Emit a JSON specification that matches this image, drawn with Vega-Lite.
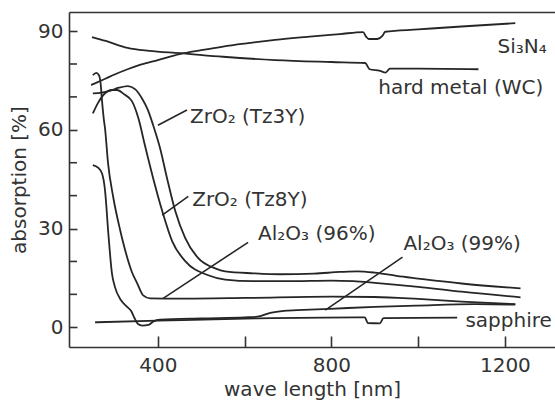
{
  "$schema": "https://vega.github.io/schema/vega-lite/v6.json",
  "autosize": {"type": "none"},
  "padding": {"left": 69, "top": 12, "right": 0, "bottom": 54},
  "width": 486,
  "height": 335,
  "background": "white",
  "config": {
    "view": {"stroke": null},
    "font": "DejaVu Sans",
    "axis": {
      "grid": false,
      "labelOverlap": false,
      "domainColor": "#333333",
      "domainWidth": 1.6,
      "tickColor": "#333333",
      "tickWidth": 1.6,
      "labelFont": "DejaVu Sans",
      "labelFontSize": 20,
      "labelColor": "#333333",
      "titleFont": "DejaVu Sans",
      "titleFontSize": 20,
      "titleFontWeight": "normal",
      "titleColor": "#333333"
    }
  },
  "datasets": {
    "curves": [
      {"series": "Si3N4", "wl": 246, "abs": 73.6},
      {"series": "Si3N4", "wl": 260, "abs": 74.4},
      {"series": "Si3N4", "wl": 280, "abs": 75.6},
      {"series": "Si3N4", "wl": 300, "abs": 76.8},
      {"series": "Si3N4", "wl": 330, "abs": 78.4},
      {"series": "Si3N4", "wl": 360, "abs": 79.8},
      {"series": "Si3N4", "wl": 400, "abs": 81.2},
      {"series": "Si3N4", "wl": 450, "abs": 83.0},
      {"series": "Si3N4", "wl": 500, "abs": 84.2},
      {"series": "Si3N4", "wl": 550, "abs": 85.3},
      {"series": "Si3N4", "wl": 600, "abs": 86.2},
      {"series": "Si3N4", "wl": 670, "abs": 87.3},
      {"series": "Si3N4", "wl": 750, "abs": 88.3},
      {"series": "Si3N4", "wl": 820, "abs": 89.1},
      {"series": "Si3N4", "wl": 873, "abs": 89.7},
      {"series": "Si3N4", "wl": 880, "abs": 88.3},
      {"series": "Si3N4", "wl": 886, "abs": 87.6},
      {"series": "Si3N4", "wl": 906, "abs": 87.6},
      {"series": "Si3N4", "wl": 918, "abs": 88.6},
      {"series": "Si3N4", "wl": 924, "abs": 89.8},
      {"series": "Si3N4", "wl": 1000, "abs": 90.5},
      {"series": "Si3N4", "wl": 1100, "abs": 91.4},
      {"series": "Si3N4", "wl": 1224, "abs": 92.4},

      {"series": "WC", "wl": 248, "abs": 88.2},
      {"series": "WC", "wl": 280, "abs": 87.0},
      {"series": "WC", "wl": 330, "abs": 84.9},
      {"series": "WC", "wl": 380, "abs": 84.0},
      {"series": "WC", "wl": 451, "abs": 83.3},
      {"series": "WC", "wl": 550, "abs": 82.2},
      {"series": "WC", "wl": 670, "abs": 81.2},
      {"series": "WC", "wl": 800, "abs": 80.6},
      {"series": "WC", "wl": 878, "abs": 80.3},
      {"series": "WC", "wl": 888, "abs": 78.4},
      {"series": "WC", "wl": 912, "abs": 77.9},
      {"series": "WC", "wl": 925, "abs": 77.4},
      {"series": "WC", "wl": 935, "abs": 78.6},
      {"series": "WC", "wl": 1000, "abs": 78.6},
      {"series": "WC", "wl": 1139, "abs": 78.4},

      {"series": "Tz3Y", "wl": 250, "abs": 71.1},
      {"series": "Tz3Y", "wl": 270, "abs": 71.3},
      {"series": "Tz3Y", "wl": 290, "abs": 71.9},
      {"series": "Tz3Y", "wl": 310, "abs": 72.8},
      {"series": "Tz3Y", "wl": 331, "abs": 73.3},
      {"series": "Tz3Y", "wl": 348, "abs": 72.3},
      {"series": "Tz3Y", "wl": 363, "abs": 69.6},
      {"series": "Tz3Y", "wl": 377, "abs": 66.0},
      {"series": "Tz3Y", "wl": 389, "abs": 61.4},
      {"series": "Tz3Y", "wl": 405, "abs": 54.4},
      {"series": "Tz3Y", "wl": 421, "abs": 45.3},
      {"series": "Tz3Y", "wl": 440, "abs": 35.3},
      {"series": "Tz3Y", "wl": 463, "abs": 27.1},
      {"series": "Tz3Y", "wl": 493, "abs": 21.0},
      {"series": "Tz3Y", "wl": 532, "abs": 17.9},
      {"series": "Tz3Y", "wl": 555, "abs": 17.0},
      {"series": "Tz3Y", "wl": 620, "abs": 16.4},
      {"series": "Tz3Y", "wl": 682, "abs": 16.1},
      {"series": "Tz3Y", "wl": 760, "abs": 16.3},
      {"series": "Tz3Y", "wl": 820, "abs": 16.8},
      {"series": "Tz3Y", "wl": 860, "abs": 17.0},
      {"series": "Tz3Y", "wl": 900, "abs": 16.6},
      {"series": "Tz3Y", "wl": 950, "abs": 15.6},
      {"series": "Tz3Y", "wl": 1000, "abs": 14.8},
      {"series": "Tz3Y", "wl": 1100, "abs": 13.3},
      {"series": "Tz3Y", "wl": 1236, "abs": 11.8},

      {"series": "Tz8Y", "wl": 250, "abs": 65.0},
      {"series": "Tz8Y", "wl": 262, "abs": 68.2},
      {"series": "Tz8Y", "wl": 278, "abs": 71.1},
      {"series": "Tz8Y", "wl": 293, "abs": 72.1},
      {"series": "Tz8Y", "wl": 306, "abs": 72.1},
      {"series": "Tz8Y", "wl": 322, "abs": 70.8},
      {"series": "Tz8Y", "wl": 340, "abs": 68.7},
      {"series": "Tz8Y", "wl": 355, "abs": 63.5},
      {"series": "Tz8Y", "wl": 370, "abs": 55.3},
      {"series": "Tz8Y", "wl": 389, "abs": 45.3},
      {"series": "Tz8Y", "wl": 410, "abs": 35.3},
      {"series": "Tz8Y", "wl": 433, "abs": 26.1},
      {"series": "Tz8Y", "wl": 463, "abs": 20.1},
      {"series": "Tz8Y", "wl": 516, "abs": 15.8},
      {"series": "Tz8Y", "wl": 555, "abs": 14.5},
      {"series": "Tz8Y", "wl": 620, "abs": 14.0},
      {"series": "Tz8Y", "wl": 700, "abs": 14.0},
      {"series": "Tz8Y", "wl": 800, "abs": 14.2},
      {"series": "Tz8Y", "wl": 850, "abs": 14.0},
      {"series": "Tz8Y", "wl": 900, "abs": 13.5},
      {"series": "Tz8Y", "wl": 1000, "abs": 12.3},
      {"series": "Tz8Y", "wl": 1100, "abs": 10.8},
      {"series": "Tz8Y", "wl": 1236, "abs": 9.1},

      {"series": "Al96", "wl": 250, "abs": 76.6},
      {"series": "Al96", "wl": 258, "abs": 77.3},
      {"series": "Al96", "wl": 264, "abs": 76.6},
      {"series": "Al96", "wl": 268, "abs": 74.0},
      {"series": "Al96", "wl": 271, "abs": 69.0},
      {"series": "Al96", "wl": 275, "abs": 63.5},
      {"series": "Al96", "wl": 278, "abs": 60.5},
      {"series": "Al96", "wl": 285, "abs": 49.9},
      {"series": "Al96", "wl": 297, "abs": 39.5},
      {"series": "Al96", "wl": 313, "abs": 29.5},
      {"series": "Al96", "wl": 329, "abs": 21.3},
      {"series": "Al96", "wl": 340, "abs": 16.8},
      {"series": "Al96", "wl": 352, "abs": 13.4},
      {"series": "Al96", "wl": 366, "abs": 9.7},
      {"series": "Al96", "wl": 382, "abs": 8.8},
      {"series": "Al96", "wl": 450, "abs": 8.7},
      {"series": "Al96", "wl": 600, "abs": 8.9},
      {"series": "Al96", "wl": 800, "abs": 9.3},
      {"series": "Al96", "wl": 900, "abs": 9.2},
      {"series": "Al96", "wl": 1000, "abs": 8.6},
      {"series": "Al96", "wl": 1100, "abs": 7.8},
      {"series": "Al96", "wl": 1224, "abs": 7.0},

      {"series": "Al99", "wl": 250, "abs": 49.3},
      {"series": "Al99", "wl": 262, "abs": 48.5},
      {"series": "Al99", "wl": 271, "abs": 46.8},
      {"series": "Al99", "wl": 278, "abs": 41.7},
      {"series": "Al99", "wl": 286, "abs": 28.0},
      {"series": "Al99", "wl": 294, "abs": 16.4},
      {"series": "Al99", "wl": 301, "abs": 12.2},
      {"series": "Al99", "wl": 315, "abs": 8.2},
      {"series": "Al99", "wl": 329, "abs": 6.2},
      {"series": "Al99", "wl": 338, "abs": 5.0},
      {"series": "Al99", "wl": 346, "abs": 2.8},
      {"series": "Al99", "wl": 354, "abs": 1.0},
      {"series": "Al99", "wl": 364, "abs": 0.5},
      {"series": "Al99", "wl": 378, "abs": 0.7},
      {"series": "Al99", "wl": 390, "abs": 1.8},
      {"series": "Al99", "wl": 405, "abs": 2.3},
      {"series": "Al99", "wl": 500, "abs": 2.7},
      {"series": "Al99", "wl": 600, "abs": 3.0},
      {"series": "Al99", "wl": 629, "abs": 3.2},
      {"series": "Al99", "wl": 659, "abs": 4.4},
      {"series": "Al99", "wl": 690, "abs": 5.0},
      {"series": "Al99", "wl": 721, "abs": 5.2},
      {"series": "Al99", "wl": 797, "abs": 5.6},
      {"series": "Al99", "wl": 900, "abs": 6.2},
      {"series": "Al99", "wl": 1000, "abs": 6.6},
      {"series": "Al99", "wl": 1132, "abs": 7.0},
      {"series": "Al99", "wl": 1224, "abs": 6.9},

      {"series": "sapphire", "wl": 255, "abs": 1.5},
      {"series": "sapphire", "wl": 400, "abs": 2.0},
      {"series": "sapphire", "wl": 629, "abs": 2.7},
      {"series": "sapphire", "wl": 860, "abs": 3.0},
      {"series": "sapphire", "wl": 877, "abs": 3.0},
      {"series": "sapphire", "wl": 884, "abs": 1.3},
      {"series": "sapphire", "wl": 912, "abs": 1.2},
      {"series": "sapphire", "wl": 920, "abs": 2.8},
      {"series": "sapphire", "wl": 1090, "abs": 2.9}
    ],
    "leaders": [
      {"x1": 400, "y1": 61.4, "x2": 467, "y2": 66.0},
      {"x1": 410, "y1": 34.1, "x2": 470, "y2": 39.8},
      {"x1": 412, "y1": 8.8, "x2": 608, "y2": 25.8},
      {"x1": 786, "y1": 5.2, "x2": 964, "y2": 21.3}
    ],
    "minorTicks": [
      {"tick": 10}, {"tick": 20}, {"tick": 40}, {"tick": 50}, {"tick": 70}, {"tick": 80}
    ],
    "labels": [
      {"text": "ZrO₂ (Tz3Y)", "wl": 474, "abs": 62.0},
      {"text": "ZrO₂ (Tz8Y)", "wl": 479, "abs": 36.8},
      {"text": "Al₂O₃ (96%)", "wl": 631, "abs": 26.5},
      {"text": "Al₂O₃ (99%)", "wl": 966, "abs": 23.4},
      {"text": "Si₃N₄", "wl": 1183, "abs": 83.3},
      {"text": "hard metal (WC)", "wl": 908, "abs": 70.9},
      {"text": "sapphire", "wl": 1109, "abs": 0.0}
    ]
  },
  "resolve": {"axis": {"x": "independent"}},
  "layer": [
    {
      "data": {"name": "curves"},
      "mark": {"type": "line", "interpolate": "monotone", "color": "#262626", "strokeWidth": 1.8, "clip": true},
      "encoding": {
        "x": {
          "field": "wl", "type": "quantitative",
          "scale": {"domain": [195, 1315.5], "nice": false, "zero": false},
          "axis": {
            "orient": "bottom",
            "title": "wave length [nm]",
            "values": [400, 600, 800, 1000, 1200],
            "labelExpr": "datum.value % 400 === 0 ? '' + datum.value : ''",
            "labelOverlap": false,
            "tickSize": -11,
            "labelPadding": 19,
            "titlePadding": 4
          }
        },
        "y": {
          "field": "abs", "type": "quantitative",
          "scale": {"domain": [-6, 95.8], "nice": false, "zero": false},
          "axis": {
            "title": "absorption [%]",
            "values": [0, 30, 60, 90],
            "labelOverlap": false,
            "labelFlush": false,
            "tickSize": -8,
            "labelPadding": 14,
            "titlePadding": 8
          }
        },
        "detail": {"field": "series"},
        "order": {"field": "wl"}
      }
    },
    {
      "data": {"name": "minorTicks"},
      "mark": {"type": "rule", "color": "#333333", "strokeWidth": 1.6},
      "encoding": {
        "x": {"datum": 195, "type": "quantitative", "axis": null},
        "x2": {"datum": 213.4},
        "y": {"field": "tick", "type": "quantitative"}
      }
    },
    {
      "data": {"name": "leaders"},
      "mark": {"type": "rule", "color": "#262626", "strokeWidth": 1.6},
      "encoding": {
        "x": {"field": "x1", "type": "quantitative", "axis": null},
        "y": {"field": "y1", "type": "quantitative"},
        "x2": {"field": "x2"},
        "y2": {"field": "y2"}
      }
    },
    {
      "data": {"name": "labels"},
      "mark": {"type": "text", "align": "left", "baseline": "alphabetic", "fontSize": 20, "font": "DejaVu Sans", "color": "#333333"},
      "encoding": {
        "x": {
          "field": "wl", "type": "quantitative",
          "axis": {"orient": "top", "title": null, "labels": false, "ticks": false, "domain": true}
        },
        "y": {"field": "abs", "type": "quantitative"},
        "text": {"field": "text"}
      }
    }
  ]
}
